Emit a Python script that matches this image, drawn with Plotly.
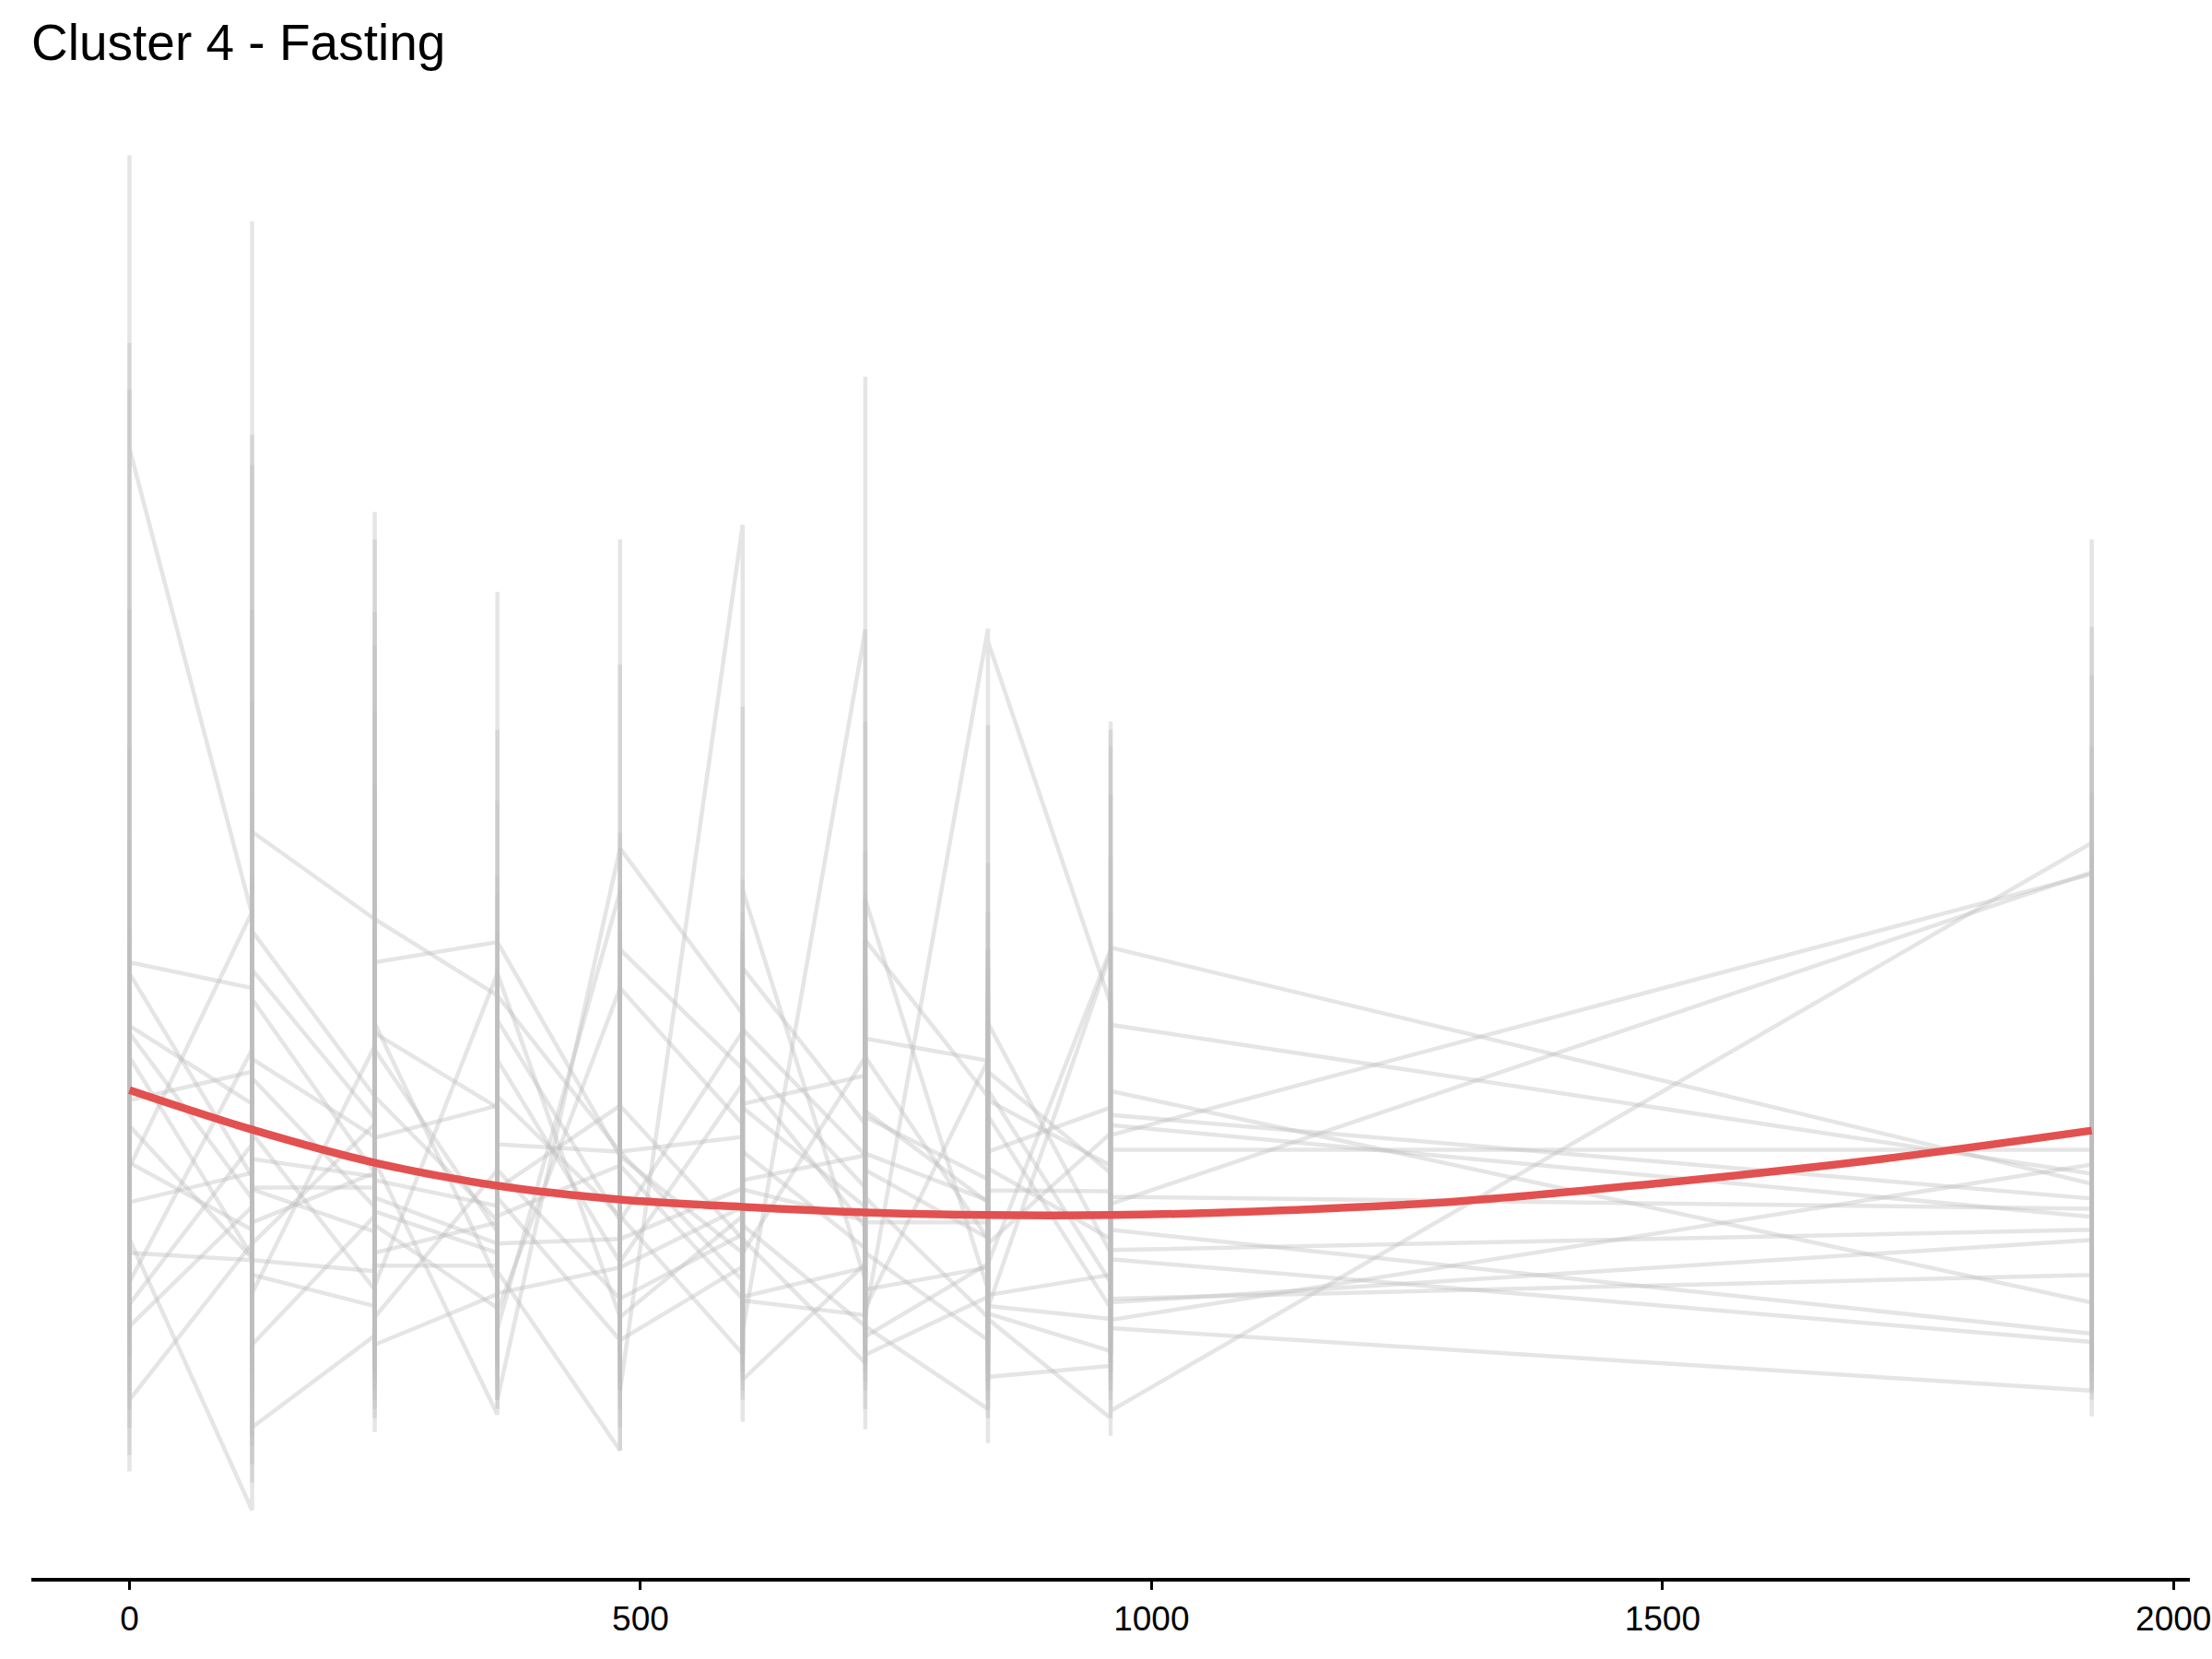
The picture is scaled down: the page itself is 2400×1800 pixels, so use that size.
import plotly.graph_objects as go

# Time points (x)
times = [0, 120, 240, 360, 480, 600, 720, 840, 960, 1920]

# Per-gene replicate values at each time point (one inner list per time point)
g01 = [[15.44, 3.0, 12.25], [7.18, 14.72, 2.6, 8.08], [7.13, 11.56, 2.8, 7.13], [6.30, 10.69, 2.5, 6.30],
       [4.60, 11.26, 2.4, 4.60], [4.76, 9.44, 2.6, 4.60], [3.55, 13.03, 3.50], [2.55, 9.24, 2.84],
       [2.43, 9.28, 2.68], [2.00, 11.26]]
g02 = [[13.40, 2.8, 6.66], [6.38, 12.40, 2.9, 6.58], [4.96, 11.26, 2.7, 6.66], [6.88, 9.19, 2.6, 6.88],
       [4.55, 9.90, 2.3, 4.55], [3.50, 7.56, 2.4, 3.65], [2.30, 9.28, 2.39], [3.02, 7.74, 2.5, 3.04],
       [3.26, 9.19, 2.6, 3.00], [3.26, 10.31, 2.4]]
g03 = [[12.89, 3.2, 6.54], [4.33, 12.07, 2.4, 6.26], [4.37, 10.47, 2.9, 5.89], [5.08, 8.42, 3.0, 6.03],
       [3.85, 8.07, 2.6, 3.85], [5.91, 7.00, 2.8, 5.93], [4.56, 7.87, 2.7, 4.58], [4.07, 7.20, 2.6, 4.42],
       [3.65, 9.01, 2.5, 3.53], [3.75, 9.78, 2.7]]
g04 = [[10.50, 2.6, 5.97], [5.12, 9.50, 2.2, 5.61], [4.76, 10.11, 2.4, 5.71], [3.73, 7.60, 2.3, 5.60],
       [3.40, 7.50, 2.2, 3.40], [5.34, 7.2, 2.00, 5.63], [4.21, 7.40, 2.4, 5.04], [4.05, 6.8, 1.90, 4.60],
       [5.08, 8.48, 2.3, 5.00], [4.09, 9.00, 2.5]]
g05 = [[9.00, 2.4, 5.89], [4.09, 7.6, 2.00, 5.40], [4.00, 9.39, 2.1, 5.20], [3.85, 7.4, 2.00, 4.68],
       [4.60, 7.2, 1.60, 4.60], [3.20, 6.9, 1.66, 3.02], [3.34, 7.1, 1.58, 3.10], [3.34, 6.6, 1.43, 3.38],
       [6.80, 7.80, 2.6, 6.82], [4.25, 8.50, 2.3]]
g06 = [[8.00, 2.9, 5.63], [3.46, 7.50, 2.5, 4.52], [4.33, 7.3, 1.90, 4.29], [4.01, 7.00, 2.4, 4.20],
       [5.10, 7.00, 2.7, 5.10], [3.65, 6.80, 2.5, 5.43], [3.78, 6.90, 2.6, 4.40], [3.66, 6.80, 2.4, 3.60],
       [4.80, 7.20, 2.2, 4.78], [7.62, 7.80, 2.6]]
g07 = [[7.00, 2.50, 5.16], [5.47, 6.9, 1.50, 4.21], [4.21, 8.00, 2.3, 4.10], [3.60, 6.6, 2.20, 4.10],
       [2.55, 6.4, 1.35, 2.55], [3.35, 6.7, 2.20, 2.98], [2.82, 6.5, 2.00, 2.70], [1.80, 6.2, 2.78],
       [1.70, 6.3, 1.51, 1.78], [7.96, 1.72]]
g08 = [[3.00, 6.9, 4.88], [3.44, 8.50, 2.8, 4.19], [3.73, 6.8, 1.55, 3.95], [3.50, 6.50, 2.5, 3.90],
       [4.45, 6.50, 2.3, 4.45], [3.00, 6.00, 2.4, 3.50], [5.63, 6.50, 2.6, 5.63], [3.65, 6.50, 2.2, 5.27],
       [3.18, 6.80, 2.4, 3.43], [2.53, 6.80, 2.2]]
g09 = [[2.20, 6.5, 4.48], [3.75, 6.6, 1.80, 3.83], [4.37, 6.9, 2.20, 3.50], [3.83, 6.4, 1.90, 3.60],
       [3.65, 6.2, 1.80, 3.65], [4.20, 6.3, 1.90, 4.29], [4.56, 6.6, 1.80, 4.98], [4.30, 6.1, 2.00, 4.99],
       [2.90, 6.2, 2.00, 2.96], [3.64, 6.3, 2.00]]
g10 = [[6.00, 2.6, 4.05], [4.37, 6.80, 2.4, 3.60], [4.90, 6.6, 2.00, 3.36], [3.36, 6.00, 2.3, 3.06],
       [3.34, 6.00, 2.1, 3.34], [4.00, 6.50, 2.2, 4.19], [3.85, 6.20, 2.3, 3.83], [3.83, 6.00, 2.1, 4.18],
       [4.17, 6.40, 2.5, 4.11], [3.98, 6.50, 2.3]]
g11 = [[1.60, 6.2, 3.50], [3.42, 6.5, 1.20, 3.26], [2.92, 7.00, 2.2, 3.14], [6.54, 2.40, 6.54],
       [2.80, 5.50, 2.0, 2.80], [3.90, 6.2, 2.4, 5.08], [4.00, 6.4, 2.30, 4.10], [2.80, 5.50, 2.1, 2.92],
       [2.78, 6.1, 1.70, 2.77], [4.46, 6.4, 1.90]]
g12 = [[2.00, 6.0, 3.65], [0.70, 5.00, 3.06], [5.75, 2.50, 4.50], [1.74, 5.8, 2.67], [7.43, 2.00],
       [11.42, 2.5, 7.45], [3.20, 7.34], [3.10, 6.3, 1.70, 2.90], [6.76, 2.4, 5.98], [4.36, 6.00, 2.6]]
g13 = [[5.50, 2.4, 3.18], [5.71, 2.30, 3.42], [3.30, 8.60, 2.5, 4.75], [5.10, 2.10, 5.20],
       [3.90, 6.6, 2.20, 3.90], [2.40, 6.1, 2.65], [10.28, 2.80], [10.29, 2.7, 10.15], [6.21, 2.4, 5.26],
       [2.96, 6.2, 2.20]]
g14 = [[1.80, 6.4, 2.94], [4.68, 10.50, 2.3, 4.80], [3.10, 6.5, 1.80, 2.80], [4.40, 6.3, 1.80, 4.40],
       [3.00, 5.80, 2.1, 3.00], [3.70, 5.50, 2.3, 3.80], [2.70, 5.80, 2.2, 2.59], [3.38, 5.20, 2.0, 2.15],
       [2.27, 5.60, 2.1, 3.75], [2.62, 5.50, 2.1]]
g15 = [[7.50, 2.8, 4.43], [7.21, 2.50, 7.00], [5.20, 2.6, 6.00], [3.20, 5.50, 2.4, 3.30], [1.35, 6.80],
       [5.50, 2.30, 5.12], [5.43, 2.10, 5.83], [5.59, 2.20, 5.47], [4.37, 1.90, 4.62], [4.62, 2.3]]
g16 = [[1.30, 5.9, 2.70], [4.00, 6.2, 1.40, 2.50], [3.90, 6.4, 1.70, 3.80], [2.90, 6.0, 2.86],
       [6.38, 2.00, 6.38], [4.90, 2.4, 6.60], [4.90, 2.5, 6.90], [5.20, 2.3, 6.00], [3.50, 6.00, 2.2, 4.03],
       [7.64, 2.4]]
g17 = [[1.12, 5.6, 1.90], [3.60, 6.0, 1.00, 1.60], [2.60, 6.2, 2.50], [3.05, 6.1, 1.90], [7.90, 2.5, 7.90],
       [6.10, 2.12], [3.38, 6.5, 2.90], [5.59, 2.4, 5.16], [4.45, 2.3, 4.89], [3.89, 2.40]]

genes = [g01, g02, g03, g04, g05, g06, g07, g08, g09, g10, g11, g12, g13, g14, g15, g16, g17]

# Smoothed cluster trend (red curve)
trend_x = [0, 120, 240, 360, 480, 600, 720, 840, 960, 1100, 1300, 1500, 1700, 1920]
trend_y = [5.27, 4.84, 4.48, 4.23, 4.08, 4.00, 3.94, 3.91, 3.91, 3.95, 4.06, 4.26, 4.50, 4.83]

x_ticks = [0, 500, 1000, 1500, 2000]

fig = go.Figure()

all_y = []
for g in genes:
    xs, ys = [], []
    for t, vals in zip(times, g):
        for v in vals:
            xs.append(t)
            ys.append(v)
    all_y.extend(ys)
    fig.add_trace(go.Scatter(
        x=xs, y=ys, mode="lines",
        line=dict(color="rgba(190,190,190,0.40)", width=4.5),
        hoverinfo="skip", showlegend=False,
    ))

fig.add_trace(go.Scatter(
    x=trend_x, y=trend_y, mode="lines",
    line=dict(color="#E35050", width=8.5, shape="spline", smoothing=1.0),
    hoverinfo="skip", showlegend=False,
))

ymin, ymax = min(all_y), max(all_y)
pad = 0.05 * (ymax - ymin)
xspan = max(times) - min(times)

fig.update_layout(
    width=2400, height=1800,
    margin=dict(l=34, r=24, t=95, b=88, autoexpand=False),
    paper_bgcolor="white", plot_bgcolor="white",
    font=dict(family="Liberation Sans, Arial, sans-serif", color="black"),
    title=dict(
        text="Cluster 4 - Fasting",
        x=34 / 2400, xref="container", xanchor="left",
        y=1 - 46 / 1800, yref="container", yanchor="middle",
        font=dict(size=55, family="Liberation Sans, Arial, sans-serif", color="black"),
    ),
    xaxis=dict(
        range=[min(times) - 0.05 * xspan, max(times) + 0.05 * xspan],
        tickvals=x_ticks, ticktext=[str(v) for v in x_ticks],
        automargin=False,
        showgrid=False, zeroline=False,
        showline=True, linecolor="black", linewidth=3.5,
        ticks="outside", ticklen=9, tickwidth=2.5, tickcolor="black",
        tickfont=dict(size=37, color="black"),
    ),
    yaxis=dict(
        range=[ymin - pad, ymax + pad],
        automargin=False,
        visible=False, showgrid=False, zeroline=False,
    ),
)

fig.write_html("out.html")
